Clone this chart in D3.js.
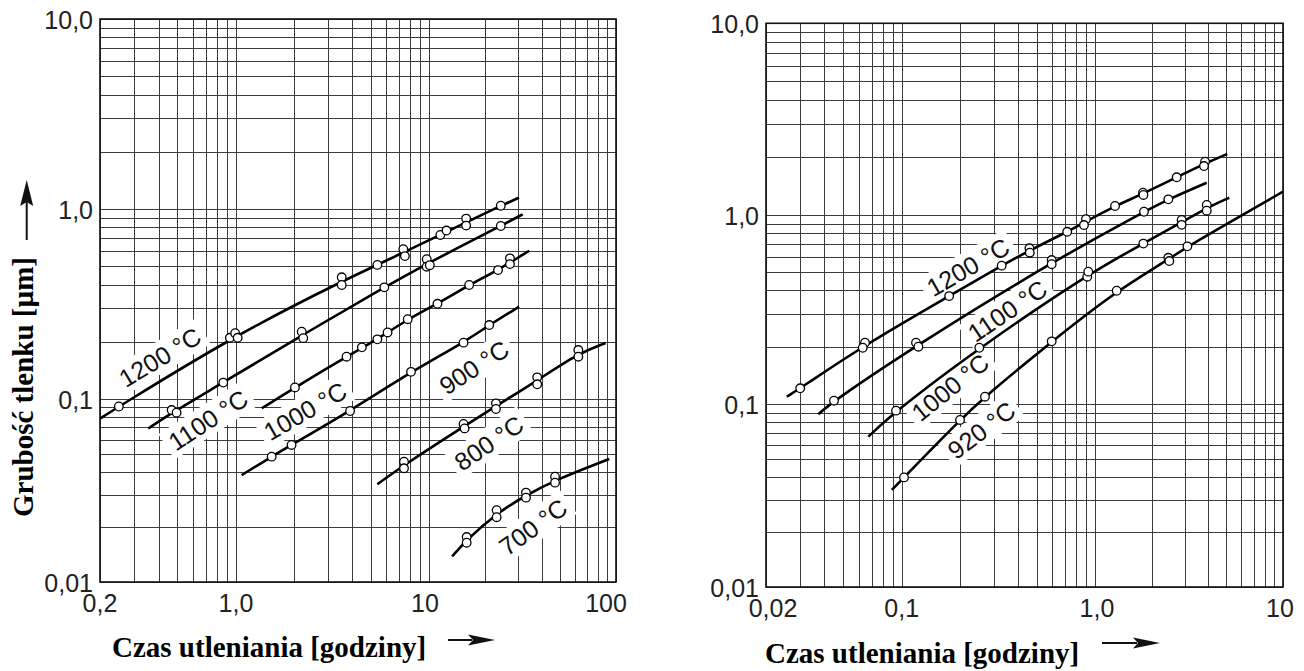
<!DOCTYPE html>
<html><head><meta charset="utf-8">
<script src="https://cdn.jsdelivr.net/npm/d3@7"></script>
<style>body{margin:0;background:#fff} svg{display:block}</style>
</head><body>
<svg id="c" width="1304" height="671"></svg>
<script>
// ---------- DATA ----------
const yTicks = [0.01, 0.1, 1, 10];
const yTickLabels = ["0,01", "0,1", "1,0", "10,0"];
const leftXTicks = [0.2, 1, 10, 100];
const leftXTickLabels = ["0,2", "1,0", "10", "100"];
const rightXTicks = [0.02, 0.1, 1, 10];
const rightXTickLabels = ["0,02", "0,1", "1,0", "10"];
const xTitle = "Czas utleniania [godziny]";
const yTitle = "Grubość tlenku [µm]";

// Left panel: fitted lines [time h, thickness µm]
const left1200Fit = [[0.2,0.078],[0.25,0.091],[0.98,0.215],[3.53,0.417],[7.4,0.59],[15.8,0.85],[24.2,1.04],[30.3,1.147]];
const left1100Fit = [[0.354,0.069],[0.48,0.0855],[0.86,0.122],[2.2,0.217],[5.87,0.387],[9.9,0.52],[24.2,0.814],[31.7,0.938]];
const left1000Fit = [[1.36,0.089],[2.02,0.115],[3.74,0.167],[5.4,0.206],[7.76,0.263],[11.1,0.317],[16.4,0.398],[23.4,0.477],[34.4,0.603]];
const left900Fit  = [[1.07,0.0384],[1.53,0.0484],[1.94,0.0561],[3.9,0.086],[8.07,0.139],[15.3,0.198],[21,0.245],[30.3,0.306]];
const left800Fit  = [[5.4,0.0342],[7.42,0.0436],[15.4,0.071],[22.8,0.0915],[37.9,0.125],[62.9,0.174],[88,0.197]];
const left700Fit  = [[13.3,0.0138],[15.9,0.017],[23,0.0237],[33,0.0298],[47.2,0.036],[92,0.047]];
// Left panel: measured points
const left1200Pts = [[0.25,0.091],[0.93,0.21],[0.99,0.222],[1.02,0.21],[3.53,0.437],[3.53,0.398],[5.4,0.508],[7.36,0.614],[7.5,0.565],[11.5,0.73],[12.4,0.77],[15.8,0.89],[15.8,0.818],[24.2,1.04]];
const left1100Pts = [[0.467,0.087],[0.495,0.0842],[0.86,0.122],[2.19,0.226],[2.23,0.209],[5.87,0.387],[9.73,0.544],[9.73,0.497],[10.1,0.506],[24.2,0.814]];
const left1000Pts = [[2.02,0.115],[3.74,0.167],[4.49,0.187],[5.4,0.206],[6.1,0.224],[7.76,0.263],[11.1,0.317],[16.4,0.398],[23.4,0.477],[27.1,0.55],[27.1,0.513]];
const left900Pts  = [[1.53,0.0484],[1.94,0.0561],[3.9,0.086],[8.07,0.139],[15.3,0.198],[21,0.245]];
const left800Pts  = [[7.42,0.0454],[7.42,0.0418],[15.3,0.073],[15.5,0.0691],[22.8,0.0947],[22.8,0.0882],[37.9,0.13],[37.9,0.1195],[62.9,0.181],[62.9,0.167]];
const left700Pts  = [[15.9,0.0176],[15.9,0.0164],[23,0.0247],[23,0.0226],[33,0.0308],[33,0.0289],[47.2,0.0376],[47.2,0.0349]];
const leftLabels  = ["1200 °C","1100 °C","1000 °C","900 °C","800 °C","700 °C"];
const leftLabelAt = [[0.406,0.166],[0.718,0.0768],[2.28,0.086],[17.4,0.147],[20.9,0.0575],[36,0.02]];
const leftLabelAngle = [-31,-33,-30,-33,-34,-36];

// Right panel
const right1200Fit = [[0.0256,0.1097],[0.030,0.1215],[0.064,0.205],[0.176,0.373],[0.329,0.54],[0.458,0.65],[0.718,0.815],[0.89,0.92],[1.278,1.114],[1.8,1.29],[2.72,1.573],[3.82,1.85],[5.05,2.08]];
const right1100Fit = [[0.0372,0.0882],[0.0448,0.1045],[0.12,0.206],[0.597,0.564],[1.822,1.04],[2.455,1.207],[3.93,1.474]];
const right1000Fit = [[0.0673,0.0665],[0.0935,0.0923],[0.252,0.199],[0.917,0.487],[1.808,0.706],[2.89,0.915],[3.93,1.09],[5.18,1.231]];
const right920Fit  = [[0.0889,0.034],[0.1028,0.0398],[0.2003,0.0821],[0.2696,0.1097],[0.597,0.215],[1.304,0.398],[2.47,0.583],[3.1,0.683],[10,1.323]];
const right1200Pts = [[0.030,0.1215],[0.0647,0.2115],[0.063,0.199],[0.176,0.373],[0.329,0.54],[0.458,0.667],[0.46,0.632],[0.718,0.815],[0.898,0.95],[0.877,0.885],[1.278,1.114],[1.8,1.307],[1.81,1.272],[2.72,1.573],[3.85,1.897],[3.8,1.8]];
const right1100Pts = [[0.0448,0.1045],[0.1186,0.2115],[0.122,0.2015],[0.597,0.578],[0.597,0.5497],[1.822,1.04],[2.455,1.207]];
const right1000Pts = [[0.0935,0.0923],[0.252,0.199],[0.912,0.472],[0.923,0.502],[1.808,0.706],[2.89,0.942],[2.89,0.887],[3.93,1.128],[3.93,1.053]];
const right920Pts  = [[0.1028,0.0398],[0.2003,0.0821],[0.2696,0.1097],[0.597,0.215],[1.304,0.398],[2.455,0.594],[2.485,0.571],[3.1,0.683]];
const rightLabels  = ["1200 °C","1100 °C","1000 °C","920 °C"];
const rightLabelAt = [[0.22,0.531],[0.352,0.312],[0.178,0.123],[0.258,0.0722]];
const rightLabelAngle = [-30,-34,-39,-37];

// ---------- DRAW ----------
const svg = d3.select("#c");
const SANS = "'Liberation Sans', Arial, Helvetica, sans-serif";
const SERIF = "'Liberation Serif', 'Times New Roman', serif";

function gridValues(lo, hi) {
  const out = [];
  for (let e = Math.floor(Math.log10(lo)); e <= Math.ceil(Math.log10(hi)); e++) {
    for (let k = 1; k <= 9; k++) {
      const v = k * Math.pow(10, e);
      if (v >= lo * 0.9999 && v <= hi * 1.0001) out.push(v);
    }
  }
  return out;
}

function panel(cfg) {
  const x = d3.scaleLog().domain(cfg.xTicks).range(cfg.xRange);
  const y = d3.scaleLog().domain(yTicks).range(cfg.yRange);
  const g = svg.append("g");
  const [x0, x1] = [cfg.xRange[0], cfg.xRange[cfg.xRange.length - 1]];
  const [y0, y1] = [cfg.yRange[0], cfg.yRange[cfg.yRange.length - 1]];

  // grid
  const grid = g.append("g").attr("stroke", "#3c3c3c").attr("stroke-width", 1).attr("shape-rendering", "crispEdges");
  grid.selectAll("line.v").data(gridValues(cfg.xTicks[0], cfg.xTicks[cfg.xTicks.length-1])).join("line")
    .attr("x1", d => Math.round(x(d)) + 0.5).attr("x2", d => Math.round(x(d)) + 0.5)
    .attr("y1", y1).attr("y2", y0);
  grid.selectAll("line.h").data(gridValues(yTicks[0], yTicks[yTicks.length-1])).join("line")
    .attr("y1", d => Math.round(y(d)) + 0.5).attr("y2", d => Math.round(y(d)) + 0.5)
    .attr("x1", x0).attr("x2", x1);

  // frame
  g.append("rect").attr("x", x0).attr("y", y1).attr("width", x1 - x0).attr("height", y0 - y1)
    .attr("fill", "none").attr("stroke", "#111").attr("stroke-width", 1.6);

  // label knock-out backgrounds (below curves), texts (above everything)
  const bgG = g.append("g");
  const curves = g.append("g");
  const pts = g.append("g");
  const txtG = g.append("g");
  cfg.labels.forEach((t, i) => {
    const tf = `translate(${x(cfg.labelAt[i][0])},${y(cfg.labelAt[i][1])}) rotate(${cfg.labelAngle[i]})`;
    const txt = txtG.append("text").attr("transform", tf).text(t).attr("text-anchor", "middle").attr("dy", "0.36em")
      .attr("font-family", SANS).attr("font-size", 25).attr("fill", "#111");
    const bb = txt.node().getBBox();
    bgG.append("rect").attr("transform", tf).attr("x", bb.x - 5).attr("y", bb.y - 1).attr("width", bb.width + 10)
      .attr("height", bb.height + 2).attr("fill", "#fff");
  });

  // curves
  const line = d3.line().x(d => x(d[0])).y(d => y(d[1])).curve(d3.curveBasis);
  cfg.fits.forEach(f => {
    curves.append("path").attr("d", line(f)).attr("fill", "none").attr("stroke", "#000").attr("stroke-width", 2.6);
  });
  // points
  cfg.points.forEach(p => {
    pts.append("g").selectAll("circle").data(p).join("circle")
      .attr("cx", d => x(d[0])).attr("cy", d => y(d[1])).attr("r", 4.3)
      .attr("fill", "#fff").attr("stroke", "#000").attr("stroke-width", 1.3);
  });

  // y tick labels
  g.append("g").selectAll("text").data(yTicks).join("text")
    .attr("x", cfg.yLabelX).attr("y", d => y(d)).attr("dy", "0.38em")
    .attr("text-anchor", "end").attr("font-family", SANS).attr("font-size", 25).attr("fill", "#222")
    .text((d, i) => yTickLabels[i]);
  // x tick labels
  g.append("g").selectAll("text").data(cfg.xTicks).join("text")
    .attr("x", (d, i) => x(d) + (cfg.xLabelShift[i] || 0)).attr("y", cfg.xLabelY)
    .attr("text-anchor", "middle").attr("font-family", SANS).attr("font-size", 25).attr("fill", "#222")
    .text((d, i) => cfg.xLabels[i]);

  // x title
  g.append("text").attr("x", cfg.titleX).attr("y", cfg.titleY).text(xTitle)
    .attr("font-family", SERIF).attr("font-weight", "bold").attr("font-size", 29).attr("fill", "#000");
  // arrow
  const a = cfg.arrow;
  g.append("line").attr("x1", a.x1).attr("x2", a.x2 - a.head + 4).attr("y1", a.y).attr("y2", a.y)
    .attr("stroke", "#111").attr("stroke-width", 2);
  g.append("path").attr("d", `M${a.x2},${a.y} L${a.x2 - a.head},${a.y - a.hw} L${a.x2 - a.head + 5},${a.y} L${a.x2 - a.head},${a.y + a.hw} Z`)
    .attr("fill", "#111");
}

panel({
  xTicks: leftXTicks, xLabels: leftXTickLabels, xRange: [100, 236, 429, 616], yRange: [582, 399, 209, 19],
  fits: [left1200Fit, left1100Fit, left1000Fit, left900Fit, left800Fit, left700Fit],
  points: [left1200Pts, left1100Pts, left1000Pts, left900Pts, left800Pts, left700Pts],
  labels: leftLabels, labelAt: leftLabelAt, labelAngle: leftLabelAngle,
  yLabelX: 93, xLabelY: 612, xLabelShift: [0, 0, -4, -10],
  titleX: 112, titleY: 657, arrow: { x1: 448, x2: 495, y: 640, head: 27, hw: 5.5 }
});
panel({
  xTicks: rightXTicks, xLabels: rightXTickLabels, xRange: [766, 901.7, 1095, 1283], yRange: [587, 404.3, 215, 23.3],
  fits: [right1200Fit, right1100Fit, right1000Fit, right920Fit],
  points: [right1200Pts, right1100Pts, right1000Pts, right920Pts],
  labels: rightLabels, labelAt: rightLabelAt, labelAngle: rightLabelAngle,
  yLabelX: 759, xLabelY: 617, xLabelShift: [7, 0, 2, -3],
  titleX: 765, titleY: 663, arrow: { x1: 1102, x2: 1160, y: 643, head: 27, hw: 5.5 }
});

// y axis title (left only) with arrow
svg.append("text").attr("transform", "translate(33,387) rotate(-90)").attr("text-anchor", "middle")
  .attr("font-family", SERIF).attr("font-weight", "bold").attr("font-size", 29).attr("fill", "#000").text(yTitle);
svg.append("line").attr("x1", 26.7).attr("x2", 26.7).attr("y1", 240).attr("y2", 200)
  .attr("stroke", "#111").attr("stroke-width", 2);
svg.append("path").attr("d", "M26.7,180 L20.2,206 L26.7,202 L33.2,206 Z").attr("fill", "#111");
</script>
</body></html>
